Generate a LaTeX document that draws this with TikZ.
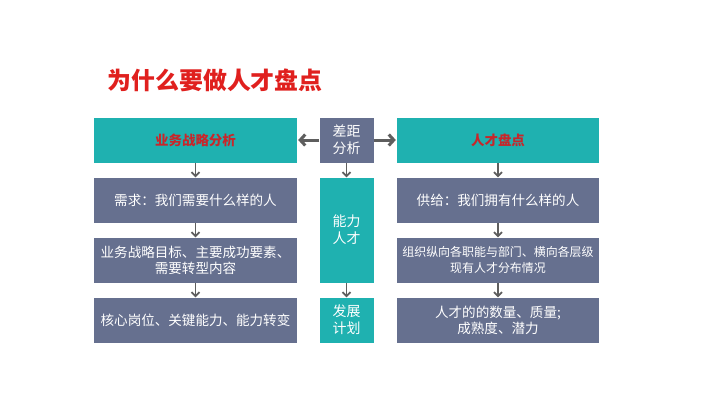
\documentclass[tikz,border=0pt]{standalone}
\usepackage{fontspec}
\setmainfont{Noto Sans CJK SC}
\newfontfamily\cjk{Noto Sans CJK SC}
\usetikzlibrary{arrows.meta}
\definecolor{tealbox}{HTML}{1FB1B0}
\definecolor{slatebox}{HTML}{66708F}
\definecolor{arrowgray}{HTML}{5E5E5E}
\definecolor{titlered}{HTML}{E0201E}
\definecolor{headred}{HTML}{C8262A}
\begin{document}
\begin{tikzpicture}[x=1bp,y=-1bp,
  tealcell/.style={fill=tealbox,draw=none,minimum height=45bp,inner sep=0pt,align=center},
  slatecell/.style={fill=slatebox,draw=none,minimum height=45bp,inner sep=0pt,align=center,text=white,font=\cjk\fontsize{13.6}{16}\selectfont},
  headtext/.style={text=headred,font=\cjk\bfseries\fontsize{13.5}{16}\selectfont},
  midtext/.style={text=white,font=\cjk\fontsize{14}{17}\selectfont},
  vdown/.style={draw=arrowgray,line width=1.8bp,-{Straight Barb[length=4bp,width=8bp]}},
  hside/.style={draw=arrowgray,line width=3bp,-{Straight Barb[length=5bp,width=11bp]}}
]
\useasboundingbox[fill=white] (0,0) rectangle (720,405);
\node[anchor=west,text=titlered,font=\cjk\bfseries\fontsize{24}{27}\selectfont] (title) at (104,80) {为什么要做人才盘点};

% left column
\node[tealcell,minimum width=203bp,headtext] (L1) at (195.5,140) {业务战略分析};
\node[slatecell,minimum width=203bp] (L2) at (195.5,200) {需求：我们需要什么样的人};
\node[slatecell,minimum width=203bp] (L3) at (195.5,260) {业务战略目标、主要成功要素、\\需要转型内容};
\node[slatecell,minimum width=203bp] (L4) at (195.5,320) {核心岗位、关键能力、能力转变};

% middle column
\node[slatecell,minimum width=54bp,midtext] (M1) at (346.5,140) {差距\\分析};
\node[tealcell,minimum width=54bp,minimum height=105bp,midtext] (M2) at (346.5,230) {能力\\人才};
\node[tealcell,minimum width=54bp,midtext] (M3) at (346.5,320) {发展\\计划};

% right column
\node[tealcell,minimum width=202bp,headtext] (R1) at (498,140) {人才盘点};
\node[slatecell,minimum width=202bp] (R2) at (498,200) {供给：我们拥有什么样的人};
\node[slatecell,minimum width=202bp,font=\cjk\fontsize{12}{16}\selectfont] (R3) at (498,260) {组织纵向各职能与部门、横向各层级\\现有人才分布情况};
\node[slatecell,minimum width=202bp] (R4) at (498,320) {人才的的数量、质量;\\成熟度、潜力};

% arrows
\draw[vdown] (L1.south) -- (L2.north);
\draw[vdown] (L2.south) -- (L3.north);
\draw[vdown] (L3.south) -- (L4.north);
\draw[vdown] (M1.south) -- (M2.north);
\draw[vdown] (M2.south) -- (M3.north);
\draw[vdown] (R1.south) -- (R2.north);
\draw[vdown] (R2.south) -- (R3.north);
\draw[vdown] (R3.south) -- (R4.north);
\draw[hside] (M1.west) -- ([xshift=1bp]L1.east);
\draw[hside] (M1.east) -- ([xshift=-1bp]R1.west);
\end{tikzpicture}
\end{document}
